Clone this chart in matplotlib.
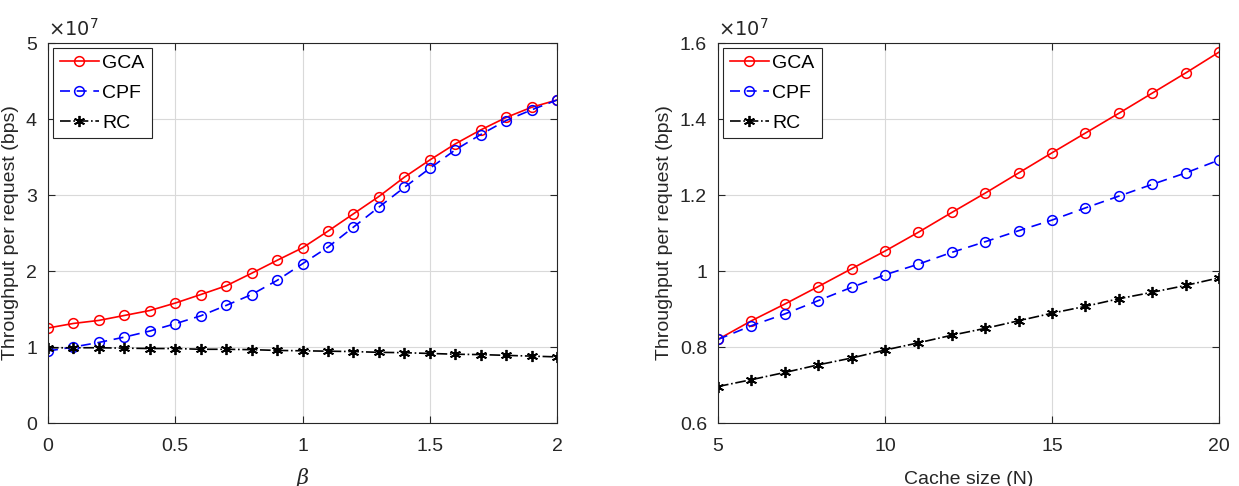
import matplotlib.pyplot as plt
from matplotlib.ticker import FuncFormatter
import numpy as np

plt.rcParams['font.family'] = ['Liberation Sans', 'DejaVu Sans']

# 左图: 吞吐量 vs beta
beta = [0, 0.1, 0.2, 0.3, 0.4, 0.5, 0.6, 0.7, 0.8, 0.9, 1.0,
        1.1, 1.2, 1.3, 1.4, 1.5, 1.6, 1.7, 1.8, 1.9, 2.0]
gca_beta = [1.25, 1.31, 1.35, 1.415, 1.48, 1.578, 1.69, 1.805, 1.97, 2.14, 2.305,
            2.524, 2.752, 2.98, 3.234, 3.46, 3.672, 3.856, 4.02, 4.154, 4.25]
cpf_beta = [0.947, 1.0, 1.06, 1.13, 1.21, 1.306, 1.41, 1.547, 1.69, 1.876, 2.095,
            2.314, 2.577, 2.84, 3.10, 3.35, 3.593, 3.795, 3.98, 4.12, 4.25]
rc_beta = [0.99, 0.99, 0.99, 0.985, 0.98, 0.98, 0.97, 0.97, 0.965, 0.955, 0.95,
           0.945, 0.94, 0.93, 0.925, 0.915, 0.905, 0.9, 0.89, 0.88, 0.87]

# 右图: 吞吐量 vs 缓存大小
cache = [5, 6, 7, 8, 9, 10, 11, 12, 13, 14, 15, 16, 17, 18, 19, 20]
gca_cache = [0.82, 0.869, 0.913, 0.959, 1.006, 1.0525, 1.102, 1.154,
             1.205, 1.258, 1.311, 1.363, 1.415, 1.468, 1.521, 1.576]
cpf_cache = [0.82, 0.856, 0.887, 0.922, 0.957, 0.99, 1.018, 1.049,
             1.077, 1.106, 1.134, 1.166, 1.197, 1.228, 1.258, 1.292]
rc_cache = [0.696, 0.714, 0.733, 0.753, 0.771, 0.792, 0.811, 0.831,
            0.849, 0.869, 0.889, 0.907, 0.927, 0.944, 0.962, 0.982]

SCALE = 1e7
TXT = '#262626'
ASTERISK = (6, 2, 0)

fig = plt.figure(figsize=(12.39, 4.86), dpi=100)
ax1 = fig.add_axes([48/1239, 63/486, 509/1239, 380/486])
ax2 = fig.add_axes([718/1239, 63/486, 501/1239, 380/486])


def draw(ax, x, gca, cpf, rc):
    ax.plot(x, np.array(gca) * SCALE, '-', color='red', lw=1.2,
            marker='o', ms=7, mfc='none', mew=1.1, label='GCA')
    ax.plot(x, np.array(cpf) * SCALE, '--', color='blue', lw=1.2,
            marker='o', ms=7, mfc='none', mew=1.1, label='CPF', dashes=(6, 4))
    ax.plot(x, np.array(rc) * SCALE, '-.', color='black', lw=1.2,
            marker=ASTERISK, ms=8, mew=1.3, label='RC')


draw(ax1, beta, gca_beta, cpf_beta, rc_beta)
draw(ax2, cache, gca_cache, cpf_cache, rc_cache)

yfmt = FuncFormatter(lambda v, p: '%g' % round(v / SCALE, 4))
xfmt = FuncFormatter(lambda v, p: '%g' % round(v, 4))

ax1.set_xlim(0, 2)
ax1.set_ylim(0, 5e7)
ax1.set_xticks([0, 0.5, 1, 1.5, 2])
ax1.set_yticks(np.arange(0, 6) * 1e7)
ax1.set_xlabel('β', fontsize=15, color=TXT, labelpad=9,
               family='DejaVu Serif', style='italic')

ax2.set_xlim(5, 20)
ax2.set_ylim(0.6e7, 1.6e7)
ax2.set_xticks([5, 10, 15, 20])
ax2.set_yticks(np.array([0.6, 0.8, 1.0, 1.2, 1.4, 1.6]) * 1e7)
ax2.set_xlabel('Cache size (N)', fontsize=14, color=TXT, labelpad=11)

for ax in (ax1, ax2):
    ax.xaxis.set_major_formatter(xfmt)
    ax.yaxis.set_major_formatter(yfmt)
    ax.set_ylabel('Throughput per request (bps)', fontsize=14, color=TXT, labelpad=5)
    ax.grid(True, color='#d9d9d9', lw=0.8)
    ax.set_axisbelow(True)
    ax.tick_params(direction='in', top=True, right=True, labelsize=14,
                   colors=TXT, length=5)
    ax.tick_params(axis='x', pad=11)
    ax.tick_params(axis='y', pad=8)
    for s in ax.spines.values():
        s.set_color(TXT)
        s.set_linewidth(0.8)
    ax.text(0.0, 1.008, r'$\times10^{7}$', transform=ax.transAxes,
            fontsize=14, color=TXT, ha='left', va='bottom')
    leg = ax.legend(loc='upper left', fontsize=14, handlelength=2.0,
                    handletextpad=0.2, borderaxespad=0.25, borderpad=0.35,
                    labelspacing=0.62, fancybox=False, framealpha=1)
    leg.get_frame().set_edgecolor(TXT)
    leg.get_frame().set_linewidth(0.8)

plt.savefig('out.png', dpi=100)
